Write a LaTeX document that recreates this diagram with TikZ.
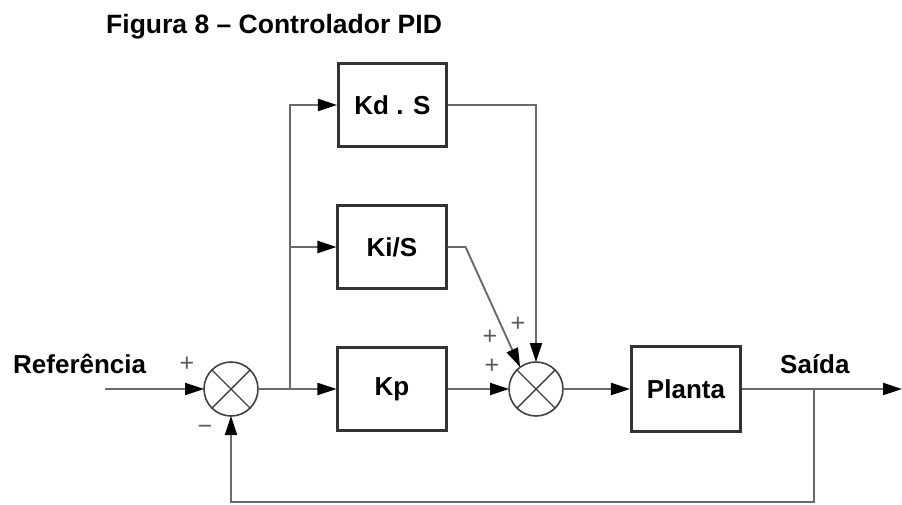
\documentclass[tikz,border=0pt]{standalone}
\usepackage{fontspec}
\setmainfont{Liberation Sans}
\usetikzlibrary{arrows.meta}
\definecolor{boxc}{HTML}{333333}
\definecolor{linec}{HTML}{6A6A6A}
\definecolor{sumc}{HTML}{404040}
\definecolor{sgnc}{HTML}{5A5A5A}
\begin{document}
\begin{tikzpicture}[x=1pt,y=-1pt,
  blk/.style={draw=boxc, line width=2.6pt, minimum width=108.5pt, minimum height=83.5pt, inner sep=0pt, font=\fontsize{26}{30}\selectfont\bfseries},
  sum/.style={draw=sumc, circle, line width=1.6pt, minimum size=54pt, inner sep=0pt, outer sep=0pt},
  ln/.style={draw=linec, line width=1.9pt},
  arr/.style={ln, -{Triangle[length=19pt,width=12pt,color=black]}},
  sgn/.style={text=sgnc, font=\fontsize{25}{25}\selectfont, inner sep=0pt},
  lbl/.style={font=\fontsize{26}{30}\selectfont\bfseries, inner sep=0pt}]
\useasboundingbox (0,0) rectangle (902,504);

% title
\node[lbl, font=\fontsize{26.5}{30}\selectfont\bfseries, anchor=base west] (title) at (106,33) {Figura 8 – Controlador PID};

% blocks
\node[blk] (kd) at (392.5,105) {Kd . S};
\node[blk] (ki) at (392,247) {Ki/S};
\node[blk] (kp) at (392,389) {Kp};
\node[blk, minimum width=109.5pt, minimum height=85.5pt] (pl) at (686,389) {Planta};

% summing junctions
\node[sum] (s1) at (231,389) {};
\node[sum] (s2) at (536,389) {};
\foreach \s in {s1,s2}{
  \draw[sumc, line width=1.4pt] (\s.north east) -- (\s.south west) (\s.north west) -- (\s.south east);
}

% coordinates
\coordinate (in) at (105,389);
\coordinate (br) at (290,389);
\coordinate (tap) at (814,389);
\coordinate (out) at (902,389);
\coordinate (fb) at (231,502);

% connectors
\draw[arr] (in) -- (s1.west);
\draw[ln] (s1.east) -- (br);
\draw[arr] (br) -- (kp.west);
\draw[arr] (br) |- (kd.west);
\draw[arr] (br |- ki.west) -- (ki.west);
\draw[arr] (kp.east) -- (s2.west);
\draw[arr] (kd.east) -| (s2.north);
\draw[arr] (ki.east) -- ++(18,0) -- (s2.126);
\draw[arr] (s2.east) -- (pl.west);
\draw[arr] (pl.east) -- (out);
\draw[arr] (tap) |- (fb) -- (s1.south);

% labels
\node[lbl, anchor=base west] (ref) at (13,373) {Referência};
\node[lbl, anchor=base west] (sai) at (780,373) {Saída};
\node[sgn] (p1) at (187,364) {+};
\node[sgn] (m1) at (205,430) {−};
\node[sgn] (p2) at (518,324) {+};
\node[sgn] (p3) at (490,337) {+};
\node[sgn] (p4) at (492,366) {+};
\end{tikzpicture}
\end{document}
